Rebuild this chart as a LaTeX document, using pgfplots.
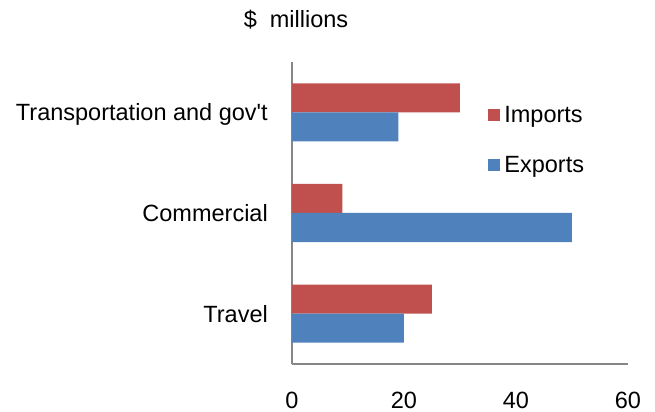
\documentclass[border=0pt]{standalone}
\usepackage{pgfplots}
\pgfplotsset{compat=1.18}
\usepackage{fontspec}
\setmainfont{Liberation Sans}
\definecolor{impred}{RGB}{192,80,77}
\definecolor{expblue}{RGB}{79,129,189}
\definecolor{axgray}{RGB}{134,134,134}
\newcommand\chartfont{\fontsize{23.5bp}{28bp}\selectfont}
\pgfplotsset{sqlegend/.style={legend image code/.code={\fill[##1] (0bp,1.5bp) rectangle (12bp,13.5bp);}}}
\begin{document}
\begin{tikzpicture}
\useasboundingbox (-292bp,-48bp) rectangle (363bp,364bp);
\begin{axis}[
  at={(0,0)}, anchor=south west,
  scale only axis, width=336bp, height=302bp,
  xmin=0, xmax=60, ymin=-0.5, ymax=2.5,
  axis x line=bottom, axis y line=left,
  axis line style={-, draw=axgray, line width=2.5bp},
  xtick={0,20,40,60}, ytick={0,1,2},
  yticklabels={Travel, Commercial, Transportation and gov\textquotesingle t},
  major tick length=0pt, tick style={draw=none},
  /pgf/number format/assume math mode=true,
  xticklabel style={anchor=base, yshift=-44.5bp, inner sep=0pt, font=\chartfont},
  yticklabel style={anchor=base east, xshift=-24bp, yshift=-8.4bp, inner sep=0pt, font=\chartfont},
  xbar, bar width=29bp,
  legend style={draw=none, fill=none, at={(rel axis cs:0.583,0.86)}, anchor=north west,
    inner sep=0pt, outer sep=0pt, row sep=26.5bp, font=\chartfont,
    nodes={inner sep=2.5bp}, cells={anchor=base west},
    /tikz/every odd column/.append style={column sep=2bp}},
]
\addplot[fill=impred, draw=none, bar shift=14.5bp, sqlegend]
  coordinates {(25,0) (9,1) (30,2)};
\addlegendentry{Imports}
\addplot[fill=expblue, draw=none, bar shift=-14.5bp, sqlegend]
  coordinates {(20,0) (50,1) (19,2)};
\addlegendentry{Exports}
\end{axis}
\node[anchor=base, inner sep=0pt, font=\chartfont] at (4bp,336bp) {\$\ \ millions};
\end{tikzpicture}
\end{document}
